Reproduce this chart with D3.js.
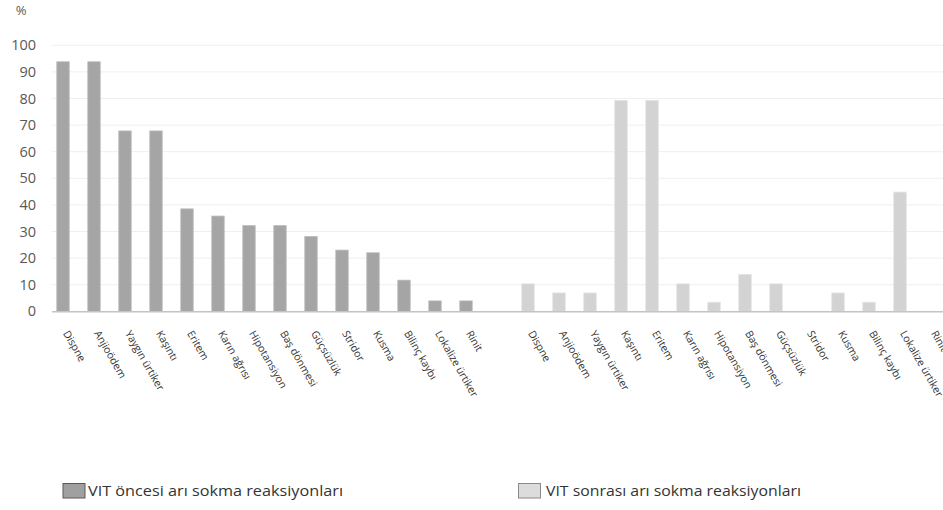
<!DOCTYPE html>
<html>
<head>
<meta charset="utf-8">
<script src="https://cdn.jsdelivr.net/npm/d3@7"></script>
<style>
  html, body { margin: 0; padding: 0; background: #ffffff; }
  svg { display: block; font-family: "Open Sans", "Noto Sans", sans-serif; }
</style>
</head>
<body>
<svg id="chart" width="943" height="510"></svg>
<script>
const categories = ["Dispne", "Anjioödem", "Yaygın ürtiker", "Kaşıntı", "Eritem", "Karın ağrısı",
  "Hipotansiyon", "Baş dönmesi", "Güçsüzlük", "Stridor", "Kusma", "Bilinç kaybı",
  "Lokalize ürtiker", "Rinit"];
const beforeValues = [93.8, 93.8, 67.8, 67.8, 38.5, 35.8, 32.2, 32.2, 28.1, 23.0, 22.0, 11.7, 3.9, 3.9];
const afterValues  = [10.3, 6.9, 6.9, 79.3, 79.3, 10.3, 3.4, 13.8, 10.3, 0, 6.9, 3.4, 44.8, 0];
const seriesNames = ["VIT öncesi arı sokma reaksiyonları", "VIT sonrası arı sokma reaksiyonları"];
const yTicks = [0, 10, 20, 30, 40, 50, 60, 70, 80, 90, 100];
const yUnit = "%";

// Build the rows: before group, one empty slot, after group
const rows = [];
categories.forEach((c, i) => rows.push({ key: "b" + i, label: c, value: beforeValues[i], series: 0 }));
rows.push({ key: "gap", label: "", value: null, series: -1 });
categories.forEach((c, i) => rows.push({ key: "a" + i, label: c, value: afterValues[i], series: 1 }));

const svg = d3.select("#chart");
const fills = ["#a5a5a5", "#d3d3d3"];
const strokes = ["#b9b9b9", "#e2e2e2"];

const x = d3.scaleBand()
  .domain(rows.map(d => d.key))
  .range([47.5, 946.5])
  .paddingInner(0.6)
  .paddingOuter(0.3)
  .align(0.5);

const y = d3.scaleLinear().domain([0, 100]).range([311.3, 45.3]);

// Gridlines
svg.append("g")
  .selectAll("line")
  .data(yTicks.filter(t => t > 0))
  .join("line")
  .attr("x1", 52).attr("x2", 943)
  .attr("y1", d => y(d)).attr("y2", d => y(d))
  .attr("stroke", "#efefef").attr("stroke-width", 1);

// Y axis labels
const yAxis = d3.axisLeft(y).tickValues(yTicks).tickSize(0).tickPadding(0);
const yg = svg.append("g").attr("transform", "translate(36,0)").call(yAxis);
yg.select(".domain").remove();
yg.selectAll("text")
  .attr("fill", "#595959")
  .style("font-size", "14.5px")
  .style("font-family", "'Open Sans', 'Noto Sans', sans-serif");

svg.append("text")
  .attr("x", 21).attr("y", 15)
  .attr("text-anchor", "middle")
  .attr("fill", "#595959")
  .style("font-size", "13px")
  .text(yUnit);

// Bars
svg.append("g")
  .selectAll("rect")
  .data(rows.filter(d => d.value !== null && d.value > 0))
  .join("rect")
  .attr("x", d => x(d.key))
  .attr("width", x.bandwidth())
  .attr("y", d => y(d.value))
  .attr("height", d => y(0) - y(d.value))
  .attr("fill", d => fills[d.series])
  .attr("stroke", d => strokes[d.series])
  .attr("stroke-width", 0.8);

// Baseline
svg.append("line")
  .attr("x1", 52).attr("x2", 943)
  .attr("y1", y(0) + 0.5).attr("y2", y(0) + 0.5)
  .attr("stroke", "#c4c4c4").attr("stroke-width", 1.5);

// X axis labels (rotated)
const xAxis = d3.axisBottom(x).tickSize(0).tickPadding(0)
  .tickFormat(k => rows.find(r => r.key === k).label);
const xg = svg.append("g").attr("transform", `translate(0,${y(0)})`).call(xAxis);
xg.select(".domain").remove();
xg.selectAll("text")
  .attr("text-anchor", "start")
  .attr("fill", "#333333")
  .attr("y", 0).attr("dy", "0.35em")
  .attr("transform", "translate(3,20) rotate(60)")
  .style("font-size", "10.5px")
  .style("font-family", "'Open Sans', 'Noto Sans', sans-serif");

// Legend
const legend = svg.append("g");
const legendPos = [{ x: 63, tx: 88 }, { x: 518.5, tx: 546 }];
const legendStroke = ["#5a5a5a", "#8a8a8a"];
const legendFill = ["#a0a0a0", "#dcdcdc"];
seriesNames.forEach((name, i) => {
  legend.append("rect")
    .attr("x", legendPos[i].x).attr("y", 483.5)
    .attr("width", 22).attr("height", 14.5)
    .attr("fill", legendFill[i])
    .attr("stroke", legendStroke[i]).attr("stroke-width", 1);
  legend.append("text")
    .attr("x", legendPos[i].tx).attr("y", 496)
    .attr("fill", "#333333")
    .attr("textLength", 255)
    .attr("lengthAdjust", "spacingAndGlyphs")
    .style("font-size", "15px")
    .text(name);
});
</script>
</body>
</html>
